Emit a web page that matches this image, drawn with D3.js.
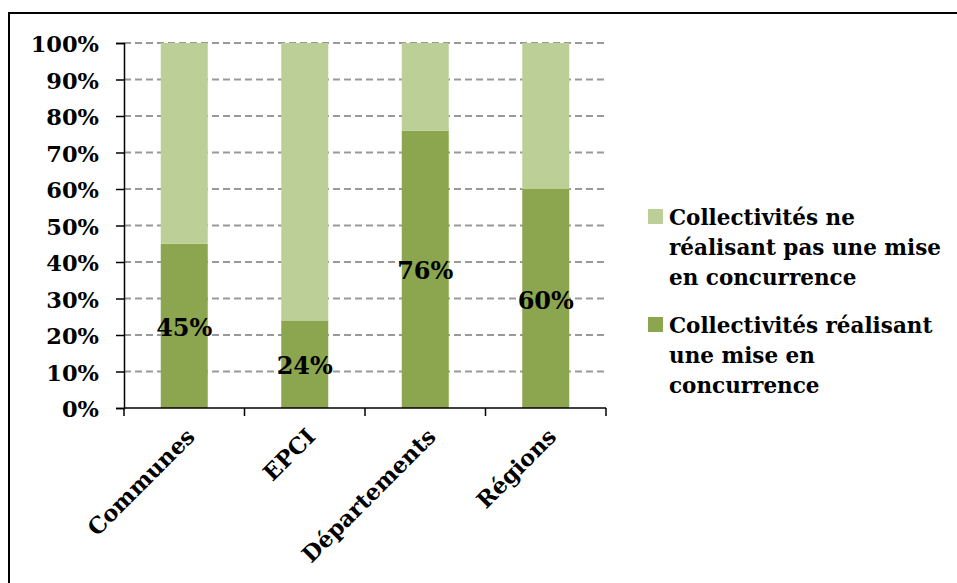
<!DOCTYPE html>
<html>
<head>
<meta charset="utf-8">
<script src="https://cdn.jsdelivr.net/npm/d3@7"></script>
<style>
  body { margin: 0; background: #fff; }
  svg { display: block; }
  .axis text { font-family: "DejaVu Serif", serif; font-weight: bold; fill: #000; }
</style>
</head>
<body>
<div id="chart"></div>
<script>
// categories and values (share of collectivités, %)
var categories = ["Communes", "EPCI", "Départements", "Régions"];
var withCompetition = [45, 24, 76, 60];
var withoutCompetition = [55, 76, 24, 40];
var yTicks = [0, 10, 20, 30, 40, 50, 60, 70, 80, 90, 100];
var seriesNames = [
    ["Collectivités ne", "réalisant pas une mise", "en concurrence"],
    ["Collectivités réalisant", "une mise en", "concurrence"]
];
var colors = ["#bbcf97", "#8ba64e"];

var W = 957, H = 583;
var margin = {top: 43, left: 124, right: 351, bottom: 175};
var width = W - margin.left - margin.right,
    height = H - margin.top - margin.bottom;

var svg = d3.select("#chart").append("svg")
    .attr("width", W)
    .attr("height", H);

// outer frame
svg.append("rect")
    .attr("x", 9).attr("y", 13)
    .attr("width", W + 20).attr("height", H + 20)
    .attr("fill", "none")
    .attr("stroke", "#000")
    .attr("stroke-width", 2);

var g = svg.append("g")
    .attr("transform", "translate(" + margin.left + "," + margin.top + ")");

var x = d3.scaleBand()
    .domain(categories)
    .range([0, width])
    .paddingInner(0.61)
    .paddingOuter(0.305);

var y = d3.scaleLinear()
    .domain([0, 100])
    .range([height, 0]);

// gridlines
g.append("g")
    .selectAll("line")
    .data(yTicks.filter(function(d) { return d > 0; }))
    .enter().append("line")
    .attr("x1", 0).attr("x2", width)
    .attr("y1", function(d) { return y(d); })
    .attr("y2", function(d) { return y(d); })
    .attr("stroke", "#999")
    .attr("stroke-width", 2)
    .attr("stroke-dasharray", "7,4");

// stacked bars
var stackData = categories.map(function(c, i) {
    return {cat: c, a: withCompetition[i], b: withoutCompetition[i]};
});

g.selectAll(".bar-low")
    .data(stackData)
    .enter().append("rect")
    .attr("class", "bar-low")
    .attr("x", function(d) { return x(d.cat); })
    .attr("width", x.bandwidth())
    .attr("y", function(d) { return y(d.a); })
    .attr("height", function(d) { return height - y(d.a); })
    .attr("fill", colors[1]);

g.selectAll(".bar-high")
    .data(stackData)
    .enter().append("rect")
    .attr("class", "bar-high")
    .attr("x", function(d) { return x(d.cat); })
    .attr("width", x.bandwidth())
    .attr("y", function(d) { return y(d.a + d.b); })
    .attr("height", function(d) { return y(d.a) - y(d.a + d.b); })
    .attr("fill", colors[0]);

// value labels
g.selectAll(".val")
    .data(stackData)
    .enter().append("text")
    .attr("class", "val")
    .attr("x", function(d) { return x(d.cat) + x.bandwidth() / 2; })
    .attr("y", function(d) { return y(d.a / 2); })
    .attr("dy", "0.42em")
    .attr("text-anchor", "middle")
    .style("font-family", "DejaVu Serif, serif")
    .style("font-weight", "bold")
    .style("font-size", "24px")
    .text(function(d) { return d.a + "%"; });

// y axis
var yAxis = g.append("g")
    .attr("class", "axis")
    .call(d3.axisLeft(y).tickValues(yTicks).tickSize(8).tickPadding(17)
        .tickFormat(function(d) { return d + "%"; }));
yAxis.selectAll("text").style("font-size", "22.5px").attr("dy", "0.38em");
yAxis.selectAll("line, path").attr("stroke", "#000").attr("stroke-width", 1.5);

// x axis with ticks at band boundaries
var xAxis = g.append("g")
    .attr("class", "axis")
    .attr("transform", "translate(0," + height + ")");
xAxis.append("line")
    .attr("x1", 0).attr("x2", width)
    .attr("stroke", "#000").attr("stroke-width", 1.5);
xAxis.selectAll(".tk")
    .data(d3.range(categories.length + 1))
    .enter().append("line")
    .attr("class", "tk")
    .attr("x1", function(i) { return i * x.step(); })
    .attr("x2", function(i) { return i * x.step(); })
    .attr("y1", 0).attr("y2", 8)
    .attr("stroke", "#000").attr("stroke-width", 1.5);
xAxis.selectAll(".lbl")
    .data(categories)
    .enter().append("text")
    .attr("class", "lbl")
    .attr("text-anchor", "end")
    .attr("transform", function(d) {
        return "translate(" + (x(d) + x.bandwidth() / 2 + 12) + ",30) rotate(-45)";
    })
    .style("font-size", "22.5px")
    .text(function(d) { return d; });

// legend
var legend = svg.append("g")
    .attr("transform", "translate(648,206)");
var items = legend.selectAll(".item")
    .data(seriesNames)
    .enter().append("g")
    .attr("class", "item")
    .attr("transform", function(d, i) { return "translate(0," + (i * 108) + ")"; });
items.append("rect")
    .attr("width", 15).attr("height", 15)
    .attr("y", 3)
    .attr("fill", function(d, i) { return colors[i]; });
items.append("text")
    .style("font-family", "DejaVu Serif, serif")
    .style("font-weight", "bold")
    .style("font-size", "21.5px")
    .selectAll("tspan")
    .data(function(d) { return d; })
    .enter().append("tspan")
    .attr("x", 21)
    .attr("y", function(d, i) { return 19 + i * 30; })
    .text(function(d) { return d; });
</script>
</body>
</html>
